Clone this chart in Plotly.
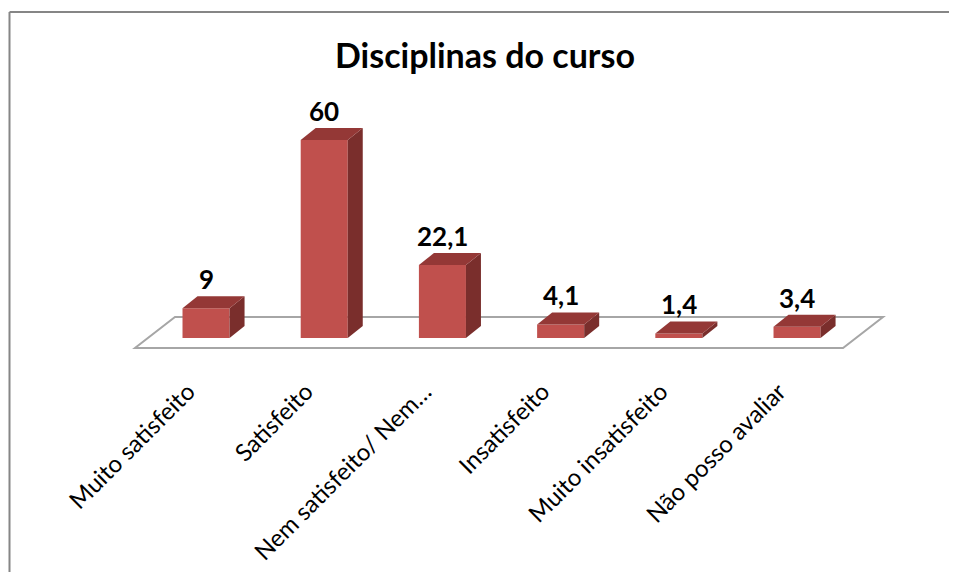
import plotly.graph_objects as go

categories = ["Muito satisfeito", "Satisfeito", "Nem satisfeito/ Nem\u2026",
              "Insatisfeito", "Muito insatisfeito", "Não posso avaliar"]
values = [9, 60, 22.1, 4.1, 1.4, 3.4]
value_labels = ["9", "60", "22,1", "4,1", "1,4", "3,4"]

OFF = 8  # page body margin
W, H = 957 - 2 * OFF, 580 - 2 * OFF
PW, PH = 800, 270
ML, MT = 100 - OFF, 100 - OFF
MR, MB = W - ML - PW, H - MT - PH
XR = [-0.897, 5.871]
YR = [-9.697, 72.12]
px_x = PW / (XR[1] - XR[0])
px_y = PH / (YR[1] - YR[0])

bw = 0.398
dx = 15 / px_x
dy = 12 / px_y

FRONT = "#C0504D"
TOP = "#943836"
SIDE = "#7A2E2C"

fig = go.Figure()

# floor
n = len(categories)
fx0, fx1 = -0.601, (n - 1) + 0.389
fdx = 40 / px_x
fy_front = -10 / px_y
fy_back = 21 / px_y
fig.add_shape(type="path",
              path=f"M {fx0} {fy_front} L {fx1} {fy_front} L {fx1+fdx} {fy_back} L {fx0+fdx} {fy_back} Z",
              xref="x", yref="y", line=dict(color="#A6A6A6", width=2),
              fillcolor="white", layer="below")

fig.add_trace(go.Bar(x=list(range(n)), y=values, width=bw,
                     marker=dict(color=FRONT, line=dict(width=0)),
                     hoverinfo="skip"))

for i, v in enumerate(values):
    xl, xr = i - bw / 2, i + bw / 2
    fig.add_trace(go.Scatter(
        x=[xr, xr + dx, xr + dx, xr, xr], y=[0, dy, v + dy, v, 0],
        fill="toself", fillcolor=SIDE, line=dict(width=0), mode="lines",
        hoverinfo="skip", showlegend=False))
    fig.add_trace(go.Scatter(
        x=[xl, xl + dx, xr + dx, xr, xl], y=[v, v + dy, v + dy, v, v],
        fill="toself", fillcolor=TOP, line=dict(width=0), mode="lines",
        hoverinfo="skip", showlegend=False))
    fig.add_annotation(x=i, y=v + dy, text=value_labels[i], showarrow=False,
                       yanchor="bottom", yshift=-1,
                       font=dict(family="Lato", size=26, color="black", weight="bold"))

# chart border: only top and left edges are inside the picture
bx0 = (1.5 - ML) / PW
by1 = 1 + (MT - (12 - OFF)) / PH
border = dict(color="#868686", width=2)
fig.add_shape(type="line", xref="paper", yref="paper",
              x0=bx0, x1=(W + 10 - ML) / PW, y0=by1, y1=by1, line=border)
fig.add_shape(type="line", xref="paper", yref="paper",
              x0=bx0, x1=bx0, y0=by1, y1=-(MB + 10) / PH, line=border)

fig.update_layout(
    width=W, height=H,
    margin=dict(l=ML, r=MR, t=MT, b=MB, autoexpand=False),
    paper_bgcolor="white", plot_bgcolor="white",
    showlegend=False,
    title=dict(text="<b>Disciplinas do curso</b>", x=(485 - OFF) / W, xanchor="center",
               y=1 - (56 - OFF) / H, yanchor="middle",
               font=dict(family="Lato", size=34, color="black")),
    xaxis=dict(range=XR, tickvals=list(range(n)), ticktext=categories,
               tickangle=-45, showgrid=False, zeroline=False, showline=False,
               automargin=False,
               ticks="", ticklabelshift=-18, ticklabelstandoff=2,
               tickfont=dict(family="Lato", size=24, color="black")),
    yaxis=dict(range=YR, visible=False, showgrid=False, zeroline=False,
               automargin=False),
)

fig.write_html("out.html")
